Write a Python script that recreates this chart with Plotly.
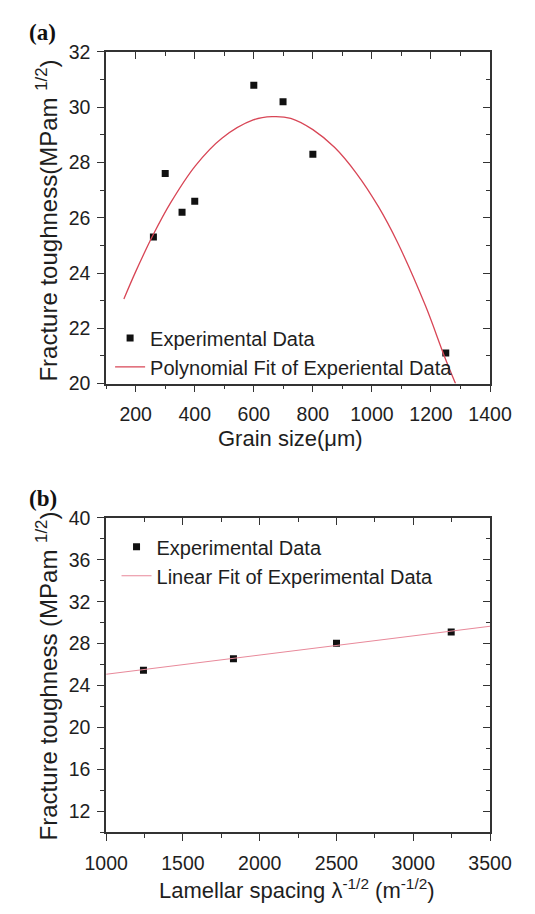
import plotly.graph_objects as go

W, H = 535, 914

# ---------------- data ----------------
# Panel (a)
grain_size = [260, 300, 357, 400, 600, 699, 800, 1250]
toughness_a = [25.3, 27.6, 26.2, 26.6, 30.8, 30.2, 28.3, 21.1]
poly_fit_x = [160, 200, 260, 317, 402, 492, 598, 662, 725, 800, 874, 948, 1022, 1086, 1181, 1245, 1283]
poly_fit_y = [23.06, 24.05, 25.4, 26.52, 27.88, 28.88, 29.54, 29.66, 29.6, 29.19, 28.54, 27.6, 26.4, 25.12, 22.82, 21.0, 20.0]

# Panel (b)
lamellar = [1243, 1829, 2500, 3247]
toughness_b = [25.46, 26.55, 28.05, 29.1]
lin_fit_x = [1000, 3500]
lin_fit_y = [25.09, 29.66]

# ---------------- style ----------------
FONT = "Liberation Sans, Arial, sans-serif"
AX = "#333333"
TXT = "#1e1e1e"


def px_x(p):
    return p / W


def px_y(p):
    return 1 - p / H


fig = go.Figure()

fig.add_trace(go.Scatter(x=grain_size, y=toughness_a, mode="markers",
                         marker=dict(symbol="square", size=7, color="#111"),
                         name="Experimental Data", legend="legend",
                         xaxis="x", yaxis="y"))
fig.add_trace(go.Scatter(x=poly_fit_x, y=poly_fit_y, mode="lines",
                         line=dict(color="#d84656", width=1.3, shape="spline", smoothing=1.0),
                         name="Polynomial Fit of Experiental Data", legend="legend",
                         xaxis="x", yaxis="y"))
fig.add_trace(go.Scatter(x=lamellar, y=toughness_b, mode="markers",
                         marker=dict(symbol="square", size=7, color="#111"),
                         name="Experimental Data", legend="legend2",
                         xaxis="x2", yaxis="y2"))
fig.add_trace(go.Scatter(x=lin_fit_x, y=lin_fit_y, mode="lines",
                         line=dict(color="#e8899a", width=1.1),
                         name="Linear Fit of Experimental Data", legend="legend2",
                         xaxis="x2", yaxis="y2"))
# helper traces so the mirrored (inside-tick) axes are drawn
for xa, ya in (("x3", "y3"), ("x4", "y4")):
    fig.add_trace(go.Scatter(x=[None], y=[None], xaxis=xa, yaxis=ya,
                             showlegend=False, hoverinfo="skip"))


def base_axis(rng, dtick, mdtick, ticks, labels=True):
    return dict(range=rng, dtick=dtick, tick0=0, ticks=ticks, ticklen=7,
                tickwidth=1.4, tickcolor=AX, showline=True, linecolor=AX,
                linewidth=1.6, showgrid=False, zeroline=False,
                showticklabels=labels,
                tickfont=dict(family=FONT, size=19.5, color=TXT),
                minor=dict(dtick=mdtick, ticks=ticks, ticklen=4,
                           tickwidth=1.2, tickcolor=AX, showgrid=False))


xa_dom = [px_x(91.7), px_x(510)]
ya_dom = [px_y(381.7), px_y(42)]
yb_dom = [px_y(841.7), px_y(519.3)]

xa = base_axis([100, 1400], 200, 100, "outside")
xa.update(domain=xa_dom, anchor="y", ticklabelstandoff=5)
ya = base_axis([20, 32], 2, 1, "outside")
ya.update(domain=ya_dom, anchor="x", ticklabelstandoff=3)
xa3 = base_axis([100, 1400], 200, 100, "inside", labels=False)
xa3.update(overlaying="x", side="top", anchor="y")
ya3 = base_axis([20, 32], 2, 1, "inside", labels=False)
ya3.update(overlaying="y", side="right", anchor="x")

xb = base_axis([1000, 3500], 500, 250, "outside")
xb.update(domain=xa_dom, anchor="y2", ticklabelstandoff=5)
yb = base_axis([10, 40], 4, 2, "outside")
yb.update(domain=yb_dom, anchor="x2", ticklabelstandoff=3)
xb4 = base_axis([1000, 3500], 500, 250, "inside", labels=False)
xb4.update(overlaying="x2", side="top", anchor="y2")
yb4 = base_axis([10, 40], 4, 2, "inside", labels=False)
yb4.update(overlaying="y2", side="right", anchor="x2")

leg_font = dict(family=FONT, size=20, color=TXT)

annotations = [
    dict(text="<b>(a)</b>", x=px_x(22), y=px_y(22),
         font=dict(family="Liberation Serif, Times New Roman, serif", size=23, color="#111")),
    dict(text="<b>(b)</b>", x=px_x(23), y=px_y(500),
         font=dict(family="Liberation Serif, Times New Roman, serif", size=23, color="#111")),
    dict(text="Grain size(μm)", x=px_x(293), y=px_y(438),
         font=dict(family=FONT, size=22, color=TXT)),
    dict(text="Fracture toughness(MPam <sup>1/2</sup>)", x=px_x(27), y=px_y(215),
         textangle=-90, font=dict(family=FONT, size=24, color=TXT)),
    dict(text="Lamellar spacing λ<sup>-1/2</sup> (m<sup>-1/2</sup>)", x=px_x(300), y=px_y(900),
         font=dict(family=FONT, size=22, color=TXT)),
    dict(text="Fracture toughness (MPam <sup>1/2</sup>)", x=px_x(27), y=px_y(681),
         textangle=-90, font=dict(family=FONT, size=24, color=TXT)),
]
for a in annotations:
    a.update(xref="paper", yref="paper", showarrow=False,
             xanchor="center", yanchor="middle")

fig.update_layout(
    width=W, height=H, autosize=False,
    margin=dict(l=0, r=0, t=0, b=0),
    paper_bgcolor="white", plot_bgcolor="white",
    xaxis=xa, yaxis=ya, xaxis3=xa3, yaxis3=ya3,
    xaxis2=xb, yaxis2=yb, xaxis4=xb4, yaxis4=yb4,
    legend=dict(x=px_x(96), y=px_y(315), xanchor="left", yanchor="top",
                bgcolor="rgba(0,0,0,0)", font=leg_font, tracegroupgap=0),
    legend2=dict(x=px_x(103), y=px_y(529), xanchor="left", yanchor="top",
                 bgcolor="rgba(0,0,0,0)", font=leg_font, tracegroupgap=0),
    annotations=annotations,
    showlegend=True,
)

fig.write_html("out.html")
